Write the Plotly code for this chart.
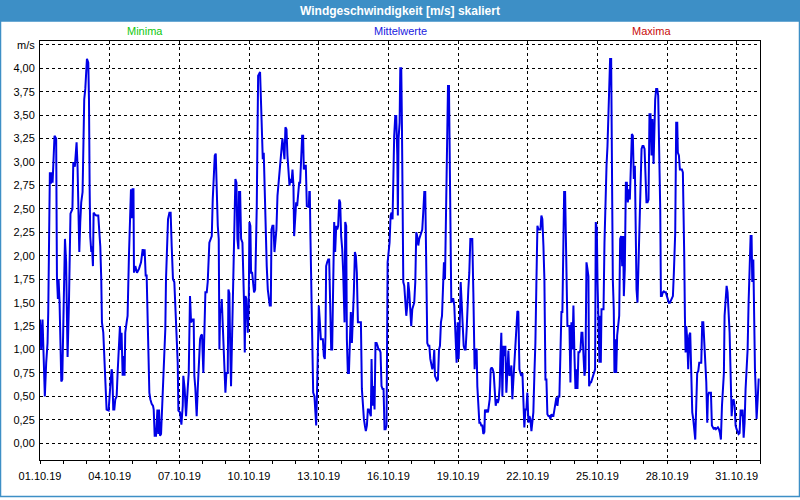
import pandas as pd
import plotly.graph_objects as go

# ---- data: (hours since 01.10.2019 00:00, wind speed m/s) ----
SEG_01_04 = [(0,1.32),(1.2,1.0),(2.6,1.32),(3.6,0.9),(5,0.5),(6.4,0.86),(7.8,1.07),(8.5,1.39),(9.5,2.0),(10.2,2.89),(11.2,2.77),(12.3,2.89),(13,2.78),(14,3.1),(15,3.28),(16.7,3.25),(17.5,1.78),(18.5,1.54),(19.2,1.75),(20.2,1.51),(20.9,1.22),(22,0.66),(23,0.68),(24,1.35),(25,1.89),(25.8,2.18),(27,1.93),(28.5,0.92),(29.9,1.5),(31.5,2.45),(33.5,2.5),(34.4,3.0),(36,2.95),(37.8,3.21),(38.8,2.95),
             (39.9,2.46),(40.6,2.04),(41.6,2.36),(42.6,2.57),(44,2.68),(45,3.25),(45.7,3.67),(46.8,3.78),(47.5,3.96),(48.5,4.1),(49.9,4.06),(50.6,3.67),(51.3,2.71),(51.9,2.21),(53,2.04),(53.7,2.1),(54.7,1.89),(55.4,2.46),(56.8,2.44),(58.1,2.43),(60.2,2.43),(61.6,2.25),(62.3,2.1),(63.3,1.75),(64,1.29),(65.4,1.18),(66.4,0.9),(67.4,0.68),(68.8,0.36),(70.9,0.35),(71.9,0.58),(72.9,0.65),(74,0.79),(74.7,0.75),(75.7,0.36),(76.8,0.36),(77.8,0.47),(79.2,0.5),(80.2,0.75),(81.2,0.97),(82.6,1.25),(83.6,1.0),(84.3,1.18),(85.4,0.72),(86.4,0.93),(87.4,0.72),(88.1,1.18),(89.5,1.29),(90.5,1.36),(91.9,2.0)]
SEG_04_08 = [(92.6,2.25),(94,2.71),(95,2.4),(95.7,2.71),(96.6,2.71),(97.1,1.82),(98.5,1.89),(100.2,1.82),(102.3,1.86),(104.4,1.93),(106.1,2.07),(107.1,2.0),(108.1,2.07),(109.2,1.79),(110.2,1.79),(111.2,1.4),(111.9,1.04),(113,0.54),(114,0.47),(115.4,0.42),(116.8,0.4),(117.5,0.36),(118.5,0.08),(119.9,0.08),(121.3,0.36),(122.3,0.1),(123,0.36),(124,0.08),(125.1,0.1),(126.1,0.36),(127.1,0.6),(128.5,0.83),(129.5,1.22),(130.2,1.75),(131.3,2.1),(132.3,2.39),(133.7,2.46),(135,2.46),(136.1,2.1),(137.4,1.75),(138.8,1.72),(139.8,1.5),(141.2,1.18),(142.3,0.86),(143,0.35),(144.7,0.33),(146.1,0.2),(147.5,0.4),(148.1,0.72),(149.5,0.58),(150.9,0.29),(151.6,0.5),(152.6,0.58),(153.7,0.75),(155,1.57),(156.1,1.29),(157.8,1.32),(158.8,1.32),(159.5,0.72),(160.5,0.59),(161.9,0.29),(163,0.58),(164,0.83),(165.4,1.11),(166.4,1.15),(167.4,1.16),(168.8,0.75),(169.8,1.29),(170.9,1.61),(172.3,1.61),(173.3,1.72),(175,2.14),(176.1,2.18),(177.5,2.21),(178.5,2.6),(179.5,2.85),(180.6,3.07),(181.6,3.09),(182.7,2.53),(183.7,2.32),(184.7,2.18),(185.4,1.0)]
SEG_08_12 = [(186.1,1.4),(187.1,1.4),(187.8,1.54),(188.8,1.29),(189.5,1.22),(190.5,0.9),(191.6,0.54),(192.6,0.75),(194,0.75),(194.7,1.64),(195.7,1.6),(196.4,1.11),(197.4,0.61),(198.5,1.15),(199.5,1.75),(200.9,2.32),(201.9,2.82),(203,2.78),(204,2.18),(205,2.07),(205.7,2.68),(206.8,2.68),(207.8,2.18),(209.2,2.14),(210.2,1.82),(210.9,1.47),(211.6,0.97),(212.3,1.57),(213.3,1.54),(214,1.4),(214.7,1.18),(215.7,1.47),(216.4,2.36),(217.4,2.32),(218.1,1.82),(219.2,1.82),(220.2,1.68),(221.2,1.61),(222.3,1.64),(223.3,2.07),(224,2.53),(224.7,3.25),(225.4,3.92),(226.4,3.94),(227.4,3.96),(228.5,3.6),(229.5,3.28),(230.2,3.03),(231.2,3.1),(232.3,2.53),(233.3,2.18),(234.3,1.89),(235.4,1.64),(236.4,1.57),(237.4,1.47),(238.5,1.47),(239.2,2.28),(240.2,2.32),(241.2,2.32),(242.3,2.04),(243.3,2.21),(244.3,2.28),(245.4,2.64),(246.4,2.78),(247.4,2.92),(248.5,3.07),(249.5,3.17),(250.5,3.25),(251.6,3.14),(252.6,3.03),(253.6,3.37),(254.7,3.35),(255.7,3.07),(256.7,2.89),(257.8,2.75),(258.8,2.82),(259.9,2.78),(260.9,2.92),(261.9,2.75),(262.6,2.21),(263.6,2.39),(264.7,2.57),(265.7,2.53),(266.7,2.68),(267.8,2.78),(268.8,2.78),(269.8,3.03),(270.9,3.28),(271.9,3.28),(272.6,2.92),(273.6,2.96),(274.7,2.96),(275.7,2.53),(276.7,2.52),(277.8,2.52)]
SEG_12_16 = [(278.3,2.68),(278.8,2.68),(279.5,2.18),(280.2,1.64),(281.2,1.11),(282.3,0.54),(283.6,0.5),(284.7,0.33),(285.4,0.19),(286.4,0.61),(287.1,1.0),(288.1,1.47),(289.2,1.29),(290.2,1.11),(291.2,1.11),(292.3,1.11),(293.3,0.93),(294.3,0.9),(295,1.15),(295.7,1.89),(296.7,1.93),(297.8,1.96),(298.8,1.96),(299.8,1.47),(300.9,1.0),(301.9,1.0),(303,1.61),(304,2.36),(305,2.04),(306.1,2.32),(307.1,2.28),(308.1,2.32),(309.2,2.6),(310.2,2.57),(311.2,2.21),(312.3,2.07),(313.3,1.82),(314,1.57),(314.7,1.29),(315.4,2.36),(316.4,2.32),(317.1,1.11),(318.1,0.75),(319.2,0.75),(320.2,1.11),(321.2,1.4),(322.3,1.07),(323.3,1.29),(324.3,1.61),(325.4,2.04),(326.4,2.0),(327.4,1.82),(328.5,1.29),(329.5,1.29),(330.5,1.29),(331.6,1.29),(332.6,0.58),(333.6,0.4),(334.7,0.26),(335.7,0.19),(336.7,0.13),(337.8,0.19),(338.8,0.36),(339.8,0.36),(340.9,0.33),(341.9,0.29),(342.6,0.9),(343.6,0.4),(344.7,0.61),(345.7,0.36),(346.7,1.07),(347.8,1.07),(348.8,1.04),(349.8,1.0),(350.9,1.0),(351.9,0.97),(352.9,0.61),(354,0.58),(355,0.58),(356,0.15),(357.1,0.15),(358.1,0.19),(359.2,1.93),(360.2,2.04),(361.2,2.14),(362.3,2.43),(363.3,2.46),(364.3,2.39),(365,3.07),(366,3.28),(367.1,3.49),(368.1,3.49),(369.2,3.07)]
SEG_16_20 = [(369.8,2.43),(370.5,3.25),(371.6,3.42),(372.3,4.0),(373.3,4.0),(374,3.39),(374.7,2.53),(375.4,1.72),(376.4,1.68),(377.4,1.47),(378.5,1.36),(379.5,1.47),(380.5,1.72),(381.6,1.61),(382.6,1.47),(383.6,1.25),(384.7,1.43),(385.7,1.47),(386.7,1.5),(387.8,1.72),(388.8,2.25),(389.8,2.21),(390.9,2.11),(391.9,2.18),(392.9,2.21),(394,2.25),(395,2.28),(396,2.46),(397.1,2.68),(398.1,2.68),(398.8,2.28),(399.5,1.68),(400.2,1.07),(401.2,1.04),(402.3,1.04),(403.3,0.9),(404.3,0.83),(405.4,0.79),(406.4,0.83),(407.4,1.0),(408.1,0.72),(409.2,0.68),(410.2,0.67),(411.2,0.68),(412.3,1.0),(413.3,1.04),(414.3,1.29),(415.4,1.36),(416.4,1.79),(417.4,1.93),(418.5,1.75),(419.2,2.25),(419.8,2.71),(420.9,3.17),(421.6,3.81),(422.6,3.81),(423.6,3.0),(424.3,2.18),(425,1.5),(426,1.54),(427.1,1.54),(428.1,1.47),(428.8,1.32),(429.8,1.11),(430.5,0.86),(431.6,1.29),(432.6,0.9),(433.6,1.22),(434.7,1.72),(435.7,1.5),(436.7,1.22),(437.8,1.04),(438.8,1.0),(439.8,1.0),(440.9,1.22),(441.6,1.5),(442.6,1.64),(443.6,1.82),(444.7,2.18),(445.7,2.18),(446.7,2.18),(447.8,1.61),(448.5,1.04),(449.1,0.79),(450.2,1.0),(451.2,1.0),(451.9,0.61),(452.9,0.43),(454,0.22),(455,0.22),(456,0.19),(457.1,0.19),(458.1,0.1),(459.2,0.12),(459.8,0.36),(460.9,0.33),(461.9,0.36),(462.9,0.33),(464,0.43)]
SEG_20_24 = [(464.7,0.47),(465.7,0.79),(466.7,0.81),(467.8,0.79),(468.8,0.75),(469.8,0.58),(470.9,0.4),(471.9,0.47),(473,0.43),(474,0.47),(475,0.61),(475.7,0.9),(476.7,1.18),(477.8,0.5),(478.8,1.04),(479.8,0.93),(480.9,1.04),(481.9,0.54),(483,0.79),(484,0.99),(485,0.72),(486.1,0.75),(487.1,0.83),(488.1,0.47),(489.2,0.68),(490.2,0.86),(491.2,1.0),(492.3,1.18),(493.3,1.41),(494.3,1.4),(495.4,0.79),(496.4,0.75),(497.4,0.72),(498.5,0.75),(499.5,0.49),(500.5,0.17),(501.6,0.36),(502.6,0.36),(503.6,0.54),(504.7,0.22),(505.7,0.29),(506.7,0.26),(507.8,0.13),(508.8,0.26),(509.8,0.33),(510.9,0.75),(511.9,1.07),(512.9,1.68),(514,2.32),(515,2.28),(516,2.28),(517.1,2.28),(518.1,2.43),(519.1,2.39),(520.2,2.11),(521.2,1.75),(522.3,0.68),(523.3,0.68),(524.3,0.31),(525.4,0.29),(526.4,0.29),(527.4,0.26),(528.5,0.31),(529.5,0.29),(530.5,0.29),(531.6,0.36),(532.6,0.47),(533.6,0.49),(534.7,0.4),(535.7,0.5),(536.7,0.5),(537.8,1.18),(538.8,1.4),(539.8,1.4),(540.9,2.14),(541.6,2.68),(542.6,2.68),(543.3,2.18),(544.3,1.89),(545,1.25),(546,1.25),(547.1,1.25),(548.1,0.65),(549.1,1.29),(550.2,1.0),(551.2,1.47),(552.3,0.93),(553.3,0.58),(554.3,0.79),(555.4,0.58),(556.4,0.97),(557.4,0.97)]
SEG_24_28 = [(558.5,1.0),(559.5,1.18),(560.5,1.18),(561.6,0.9),(562.6,0.72),(563.6,0.79),(564.7,1.93),(565.7,1.86),(566.7,1.78),(567.4,0.61),(568.5,0.65),(569.5,0.65),(570.5,0.68),(571.6,0.72),(572.6,0.75),(573.6,0.79),(574.3,2.36),(575.4,2.28),(576.1,1.72),(576.7,1.5),(577.4,1.25),(578.1,0.86),(578.8,1.36),(579.5,0.86),(580.2,1.43),(581.2,1.43),(582.3,1.43),(583.3,2.14),(584.3,2.71),(585.4,2.96),(586.4,3.17),(587.4,3.46),(588.1,3.81),(589.1,4.1),(590.2,4.1),(590.5,3.57),(591.2,2.89),(591.9,1.75),(592.9,1.43),(593.6,0.75),(594.3,1.11),(595.4,0.75),(596.4,1.15),(597.4,1.29),(598.5,1.36),(599.5,2.18),(600.5,2.21),(601.6,1.89),(602.6,2.21),(603.3,1.57),(604.3,1.86),(605.4,2.78),(606.4,2.78),(607.4,2.57),(608.5,2.71),(609.5,2.6),(610.5,3.0),(611.6,3.3),(612.6,3.28),(613.6,2.82),(614.7,2.96),(615.4,2.32),(616.4,1.64),(617.4,1.5),(618.5,1.96),(619.5,2.28),(620.5,2.71),(621.6,3.14),(622.6,3.17),(623.6,3.17),(624.7,3.14),(625.7,2.68),(626.7,2.57),(627.8,2.57),(628.8,2.6),(629.8,3.51),(630.9,3.51),(631.9,3.07),(632.9,3.46),(634,2.98),(635,3.49),(635.7,3.67),(636.7,3.78),(637.8,3.78),(638.8,3.71),(639.8,3.14),(640.9,2.5),(641.6,1.57),(642.6,1.57),(643.6,1.61),(644.7,1.62),(645.7,1.61),(646.7,1.61),(647.8,1.57),(648.8,1.54),(649.8,1.5)]
SEG_28_31 = [(650.9,1.5),(652.9,1.54),(654,1.57),(655,1.82),(655.7,2.04),(656.4,2.25),(657.4,3.42),(658.5,3.42),(659.1,3.1),(660.2,3.07),(661.2,2.92),(663.3,2.92),(664.3,2.89),(665,2.6),(665.7,2.0),(666.4,1.36),(667.1,0.97),(667.8,1.25),(668.8,1.11),(669.8,0.79),(670.9,1.15),(671.9,1.18),(673,0.75),(674,0.33),(675,0.26),(676.1,0.15),(677.1,0.04),(678.1,0.4),(679.1,0.75),(680.2,0.77),(681.2,0.86),(683.3,0.86),(684.3,1.29),(685.4,1.29),(686.4,1.07),(687.4,0.86),(688.5,0.65),(689.5,0.22),(690.2,0.5),(691.2,0.54),(693.3,0.54),(694.3,0.19),(696.4,0.15),(697.4,0.17),(698.5,0.15),(700.5,0.17),(701.6,0.15),(702.6,0.11),(703.6,0.04),(704.7,0.4),(705.7,0.54),(706.7,0.75),(707.4,1.36),(708.5,1.5),(709.5,1.68),(710.5,1.61),(711.6,1.36),(712.6,1.18),(713.6,0.75),(714.7,0.29),(715.7,0.43),(716.7,0.47),(717.8,0.4),(718.8,0.19),(719.8,0.15),(720.9,0.11),(721.9,0.1),(722.9,0.11),(724,0.36),(725,0.29),(726,0.36),(727.1,0.06),(728.1,0.22),(729.1,0.58),(730.2,0.79),(731.2,1.0),(732.2,1.5),(733.3,1.82),(734.3,2.21),(735.3,2.21),(736,1.72),(737.1,1.96),(738.1,1.11),(738.8,0.79),(739.5,0.58),(740.5,0.26),(741.6,0.47),(742.6,0.68),(743.6,0.68)]

SEGMENTS = [SEG_01_04, SEG_04_08, SEG_08_12, SEG_12_16, SEG_16_20, SEG_20_24, SEG_24_28, SEG_28_31]

START = pd.Timestamp("2019-10-01 00:00")
END = pd.Timestamp("2019-11-01 00:00")
TICK_DATES = pd.date_range("2019-10-01", "2019-10-31", freq="3D")
Y_TICKS = [i * 0.25 for i in range(18)]
Y_LABELS = [f"{v:.2f}".replace(".", ",") for v in Y_TICKS[:-1]] + ["m/s"]

TITLE = "Windgeschwindigkeit [m/s] skaliert"
LEGEND = [("Minima", "#10c810", 145), ("Mittelwerte", "#2020e0", 400), ("Maxima", "#c80a0a", 651)]

pts = [p for seg in SEGMENTS for p in seg]
x = [START + pd.Timedelta(hours=h) for h, _ in pts]
y = [v for _, v in pts]

FONT = "Liberation Sans, Arial, sans-serif"
BLUE_BAR = "#3d8fc6"

fig = go.Figure()
fig.add_trace(go.Scatter(x=x, y=y, mode="lines",
                         line=dict(color="#0000e6", width=2), showlegend=False,
                         hoverinfo="skip"))

W, H = 800, 500
fig.update_layout(
    width=W, height=H,
    margin=dict(l=40, r=40, t=41, b=40),
    paper_bgcolor="white", plot_bgcolor="white",
    font=dict(family=FONT, size=11, color="#000000"),
    showlegend=False,
)
fig.update_xaxes(
    type="date", range=[START, END],
    tickvals=list(TICK_DATES), tickformat="%d.%m.%y",
    showgrid=True, gridcolor="black", gridwidth=1, griddash="3px,3px",
    showline=True, linecolor="black", linewidth=1, mirror=True,
    ticks="outside", ticklen=3, tickcolor="black",
    minor=dict(dtick=86400000, tick0="2019-10-01", ticks="outside", ticklen=3,
               tickcolor="black", showgrid=False),
    ticklabelstandoff=3,
    zeroline=False,
)
fig.update_yaxes(
    range=[-0.178, 4.291],
    tickvals=Y_TICKS, ticktext=Y_LABELS,
    showgrid=True, gridcolor="black", gridwidth=1, griddash="3px,3px",
    showline=True, linecolor="black", linewidth=1, mirror=True,
    ticks="", ticklabelstandoff=2,
    zeroline=False,
)

# title bar and window frame
fig.add_shape(type="rect", xref="paper", yref="paper", x0=-40/720, x1=760/720,
              y0=1 + (41-21)/419, y1=1 + 41/419, fillcolor=BLUE_BAR, line_width=0, layer="below")
fig.add_shape(type="rect", xref="paper", yref="paper", x0=-39.5/720, x1=759.5/720,
              y0=-(40-3.5)/419, y1=1 + 20/419, line=dict(color=BLUE_BAR, width=1.5),
              fillcolor="rgba(0,0,0,0)")
fig.add_annotation(text=f"<b>{TITLE}</b>", xref="paper", yref="paper",
                   x=0.5, y=1 + (41-10.5)/419, showarrow=False,
                   font=dict(family=FONT, size=12, color="white"), xanchor="center", yanchor="middle")
for label, color, px in LEGEND:
    fig.add_annotation(text=label, xref="paper", yref="paper",
                       x=(px-40)/720, y=1 + (41-31.5)/419, showarrow=False,
                       font=dict(family=FONT, size=11, color=color), xanchor="center", yanchor="middle")

fig.write_html("out.html", config={"displayModeBar": False},
               post_script="document.body.style.margin='0';document.body.style.overflow='hidden';")
